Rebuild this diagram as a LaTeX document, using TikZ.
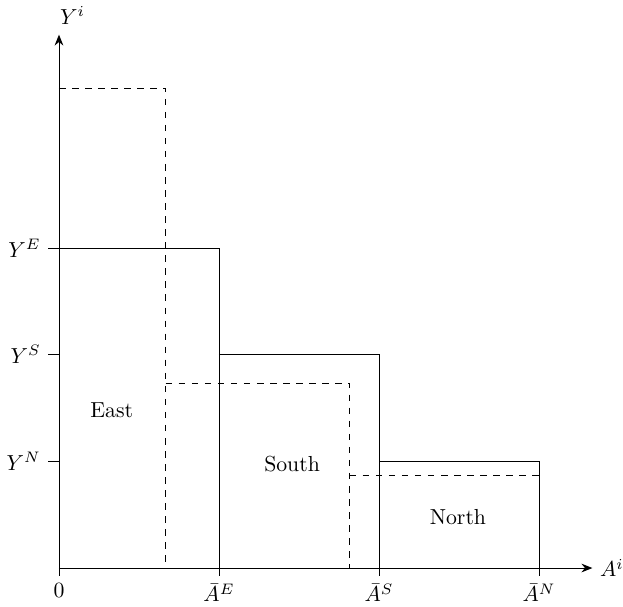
\documentclass[tikz,border=0pt]{standalone}
\usepackage{amsmath}
\usepackage{amssymb}
\usetikzlibrary{arrows.meta}

\begin{document}
\begin{tikzpicture}[scale = 0.862]

    \useasboundingbox (-1.106,-0.713) rectangle (10.575,10.65);

    % axes
    \draw[-{Stealth[length=5pt,width=4pt]}] (0,0) -- (10,0) node[anchor=west] (ai) {$A^i$};
    \draw[-{Stealth[length=5pt,width=4pt]}] (0,0) -- (0,10) node[anchor=south west, xshift=-3pt, yshift=1pt] (yi) {$Y^i$};

    % ticks on the horizontal axis
    \foreach \x/\lab/\nm in {0/0/zero, 3/\bar{A}^E/ae, 6/\bar{A}^S/as, 9/\bar{A}^N/an}
    \draw (\x,0) -- (\x,-0.15) node[anchor=north] (\nm) {$\lab$};

    % ticks on the vertical axis
    \foreach \y/\lab/\nm in {6/Y^E/ye, 4/Y^S/ys, 2/Y^N/yn}
    \draw (0,\y) -- (-0.2,\y) node[anchor=east] (\nm) {$\lab$};

    % solid steps
    \draw (0,6) -- (3,6) -- (3,0);
    \draw (3,4) -- (6,4) -- (6,0);
    \draw (6,2) -- (9,2) -- (9,0);

    % dashed steps
    \draw[dashed] (0,9) -- (2,9) -- (2,0);
    \draw[dashed] (2,3.47) -- (5.45,3.47) -- (5.45,0);
    \draw[dashed] (5.45,1.73) -- (9,1.73);

    \node (east) at (0.99,2.96) {East};
    \node (south) at (4.37,1.95) {South};
    \node (north) at (7.48,0.96) {North};

\end{tikzpicture}
\end{document}
